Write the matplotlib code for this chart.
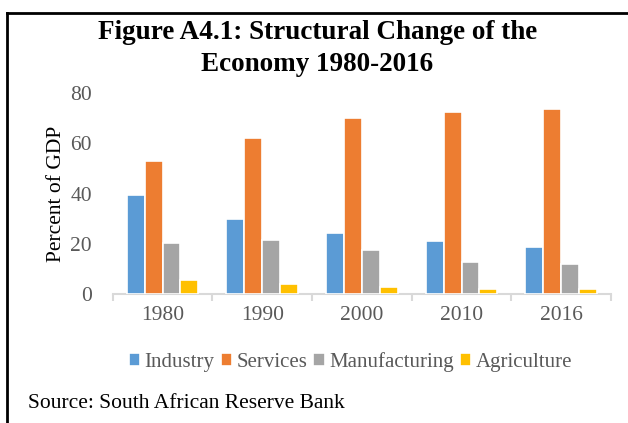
import numpy as np
import matplotlib.pyplot as plt
from matplotlib.lines import Line2D

plt.rcParams['font.family'] = ['Liberation Serif', 'DejaVu Serif']

years = ['1980', '1990', '2000', '2010', '2016']
industry = [39.3, 29.7, 24.2, 21.2, 18.8]
services = [53.1, 62.0, 70.0, 72.6, 73.6]
manufacturing = [20.3, 21.5, 17.4, 12.9, 11.8]
agriculture = [5.6, 4.0, 2.7, 2.0, 1.9]

series = [('Industry', industry, '#5B9BD5'),
          ('Services', services, '#ED7D31'),
          ('Manufacturing', manufacturing, '#A5A5A5'),
          ('Agriculture', agriculture, '#FFC000')]

fig = plt.figure(figsize=(6.28, 4.23), dpi=100)
ax = fig.add_axes([0.1795, 0.305, 0.7935, 0.475])

x = np.arange(len(years))
step = 0.18
for i, (name, vals, col) in enumerate(series):
    ax.bar(x + (i - 1.5) * step, vals, width=step, color=col,
           edgecolor='white', linewidth=1.2, label=name, zorder=3)

ax.set_xlim(-0.5, len(years) - 0.5)
ax.set_ylim(0, 80)
ax.set_yticks([0, 20, 40, 60, 80])
ax.set_xticks(x)
ax.set_xticklabels(years)
ax.set_xticks(np.arange(-0.5, len(years)), minor=True)
ax.tick_params(axis='x', which='major', length=0, pad=9, labelsize=15.5, labelcolor='#595959')
ax.tick_params(axis='x', which='minor', length=5, width=1.5, color='#D9D9D9')
ax.tick_params(axis='y', length=0, pad=15, labelsize=15.5, labelcolor='#595959')
for s in ['top', 'right', 'left']:
    ax.spines[s].set_visible(False)
ax.spines['bottom'].set_color('#D9D9D9')
ax.spines['bottom'].set_linewidth(1.5)

ax.set_ylabel('Percent of GDP', fontsize=15.5, color='black', labelpad=3)

fig.text(0.505, 0.922, 'Figure A4.1: Structural Change of the',
         ha='center', va='center', fontsize=19.5, fontweight='bold')
fig.text(0.505, 0.847, 'Economy 1980-2016',
         ha='center', va='center', fontsize=19.5, fontweight='bold')

fig.legend(loc='center', bbox_to_anchor=(0.558, 0.145), ncol=4, frameon=False,
           fontsize=15, labelcolor='#595959', handlelength=0.55, handleheight=0.55,
           handletextpad=0.2, columnspacing=0.3)

fig.text(0.044, 0.047, 'Source: South African Reserve Bank', fontsize=15.5,
         ha='left', va='center')

# frame edges at left and top
fig.add_artist(Line2D([0.0115, 0.0115], [0, 0.97], color='black', lw=2,
                      transform=fig.transFigure))
fig.add_artist(Line2D([0.0115, 1], [0.97, 0.97], color='black', lw=2,
                      transform=fig.transFigure))

fig.savefig('out.png', dpi=100)
